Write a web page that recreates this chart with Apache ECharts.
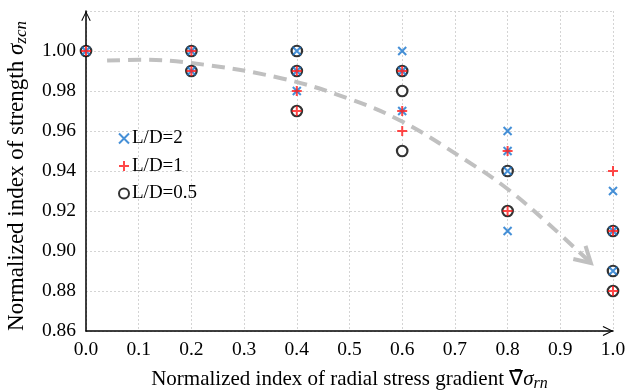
<!DOCTYPE html>
<html>
<head>
<meta charset="utf-8">
<script src="https://cdn.jsdelivr.net/npm/echarts@6/dist/echarts.min.js"></script>
<style>
  html, body { margin: 0; padding: 0; background: #fff; }
  #chart { width: 625px; height: 392px; }
</style>
</head>
<body>
<div id="chart"></div>
<script>
// Measured strength index vs. radial stress gradient index, by slenderness ratio
var seriesNames = ['L/D=2', 'L/D=1', 'L/D=0.5'];

var ld2Points = [
  [0.0, 1.00],
  [0.2, 1.00], [0.2, 0.99],
  [0.4, 1.00], [0.4, 0.99], [0.4, 0.98],
  [0.6, 1.00], [0.6, 0.99], [0.6, 0.97],
  [0.8, 0.96], [0.8, 0.95], [0.8, 0.94], [0.8, 0.91],
  [1.0, 0.93], [1.0, 0.91], [1.0, 0.89]
];
var ld1Points = [
  [0.0, 1.00],
  [0.2, 1.00], [0.2, 0.99],
  [0.4, 0.99], [0.4, 0.98], [0.4, 0.97],
  [0.6, 0.99], [0.6, 0.97], [0.6, 0.96],
  [0.8, 0.95], [0.8, 0.92],
  [1.0, 0.94], [1.0, 0.91], [1.0, 0.88]
];
var ld05Points = [
  [0.0, 1.00],
  [0.2, 1.00], [0.2, 0.99],
  [0.4, 1.00], [0.4, 0.99], [0.4, 0.97],
  [0.6, 0.99], [0.6, 0.98], [0.6, 0.95],
  [0.8, 0.94], [0.8, 0.92],
  [1.0, 0.91], [1.0, 0.89], [1.0, 0.88]
];

// Hand-drawn trend guide (dashed arrow)
var trendX = [0.04, 0.10, 0.20, 0.37, 0.50, 0.60, 0.72, 0.80, 0.88, 0.958];
var trendY = [0.9952, 0.9956, 0.994, 0.9864, 0.9760, 0.9647, 0.9455, 0.931, 0.913, 0.894];

var xTicks = [0.0, 0.1, 0.2, 0.3, 0.4, 0.5, 0.6, 0.7, 0.8, 0.9, 1.0];
var yTicks = [0.86, 0.88, 0.90, 0.92, 0.94, 0.96, 0.98, 1.00];

var FONT = '"Liberation Serif", "Times New Roman", serif';
var CROSS = 'path://M0,0L10,10M10,0L0,10';
var PLUS = 'path://M5,0L5,10M0,5L10,5';
// open chevron drawn as a filled outline so the axis arrow looks like a stroke
var CHEVRON = 'path://M0,10L5,0L10,10L9,10.6L5,2.2L1,10.6Z';

var trendData = trendX.map(function (x, i) { return [x, trendY[i]]; });

var chart = echarts.init(document.getElementById('chart'));
chart.setOption({
  animation: false,
  backgroundColor: '#ffffff',
  textStyle: { fontFamily: FONT, color: '#000' },
  grid: { left: 86, right: 12, top: 11, bottom: 61, containLabel: false, outerBoundsMode: 'none' },
  legend: {
    orient: 'vertical',
    left: 113,
    top: 124,
    itemWidth: 10,
    itemHeight: 10,
    itemGap: 8.5,
    data: seriesNames,
    textStyle: { fontFamily: FONT, fontSize: 19, color: '#000', padding: [0, 0, 0, -2] }
  },
  xAxis: {
    type: 'value',
    min: xTicks[0],
    max: xTicks[xTicks.length - 1],
    interval: 0.1,
    name: '{t|Normalized index of radial stress gradient }{n|\u2207\u0304}{s|\u03c3}{sub|rn}',
    nameLocation: 'middle',
    nameGap: 36,
    nameTextStyle: {
      rich: {
        t: { fontFamily: FONT, fontSize: 21, color: '#000' },
        n: { fontFamily: FONT, fontSize: 21, color: '#000' },
        s: { fontFamily: FONT, fontSize: 21, color: '#000', fontStyle: 'italic' },
        sub: { fontFamily: FONT, fontSize: 16, color: '#000', fontStyle: 'italic', verticalAlign: 'bottom', padding: [9, 0, 0, 0] }
      }
    },
    axisLine: {
      show: true,
      onZero: false,
      symbol: ['none', CHEVRON],
      symbolSize: [10, 11],
      symbolOffset: [0, -5],
      lineStyle: { color: '#000', width: 1.5 }
    },
    axisTick: { show: false },
    axisLabel: {
      fontFamily: FONT, fontSize: 19.5, color: '#000', margin: 9,
      formatter: function (v) { return v.toFixed(1); }
    },
    splitLine: { show: true, lineStyle: { color: '#d4d4d4', type: [2, 2], width: 1 } }
  },
  yAxis: {
    type: 'value',
    min: 0.86,
    max: 1.02,
    interval: 0.02,
    name: '{t|Normalized index of strength }{s|\u03c3}{sub|zcn}',
    nameLocation: 'middle',
    nameGap: 56,
    nameRotate: 90,
    nameTextStyle: {
      padding: [0, 10, 0, 0],
      rich: {
        t: { fontFamily: FONT, fontSize: 23, color: '#000' },
        s: { fontFamily: FONT, fontSize: 23, color: '#000', fontStyle: 'italic' },
        sub: { fontFamily: FONT, fontSize: 17, color: '#000', fontStyle: 'italic', verticalAlign: 'bottom', padding: [10, 0, 0, 0] }
      }
    },
    axisLine: {
      show: true,
      onZero: false,
      symbol: ['none', CHEVRON],
      symbolSize: [11, 10],
      symbolOffset: [0, -5],
      lineStyle: { color: '#000', width: 1.5 }
    },
    axisTick: { show: false },
    axisLabel: {
      fontFamily: FONT, fontSize: 19.5, color: '#000', margin: 10,
      showMaxLabel: false,
      formatter: function (v) { return v.toFixed(2); }
    },
    splitLine: { show: true, lineStyle: { color: '#d4d4d4', type: [2, 2], width: 1 } }
  },
  series: [
    {
      name: 'trend',
      type: 'line',
      data: trendData,
      smooth: 0.4,
      symbol: 'none',
      silent: true,
      z: 1,
      lineStyle: { color: '#c0c0c0', width: 4, type: [13, 8] }
    },
    {
      // chevron head of the trend guide, aligned to its last segment
      name: 'trendHead',
      type: 'custom',
      silent: true,
      z: 1,
      data: [[trendX[trendX.length - 1], trendY[trendY.length - 1]]],
      renderItem: function (params, api) {
        var n = trendX.length;
        var tip = api.coord([trendX[n - 1], trendY[n - 1]]);
        var prev = api.coord([trendX[n - 2], trendY[n - 2]]);
        var ang = Math.atan2(tip[1] - prev[1], tip[0] - prev[0]);
        var len = 18, spread = Math.PI / 6;
        var a = [tip[0] - len * Math.cos(ang - spread), tip[1] - len * Math.sin(ang - spread)];
        var b = [tip[0] - len * Math.cos(ang + spread), tip[1] - len * Math.sin(ang + spread)];
        return {
          type: 'polyline',
          shape: { points: [a, tip, b] },
          style: { stroke: '#c0c0c0', lineWidth: 4, fill: null, lineJoin: 'miter' }
        };
      }
    },
    {
      name: 'L/D=0.5',
      type: 'scatter',
      data: ld05Points,
      symbol: 'circle',
      symbolSize: 10.5,
      z: 3,
      itemStyle: { color: '#ffffff', borderColor: '#000000', borderWidth: 2.2 }
    },
    {
      name: 'L/D=2',
      type: 'scatter',
      data: ld2Points,
      symbol: CROSS,
      symbolSize: 8,
      z: 4,
      itemStyle: { color: 'rgba(0,0,0,0)', borderColor: '#1874cd', borderWidth: 2 }
    },
    {
      name: 'L/D=1',
      type: 'scatter',
      data: ld1Points,
      symbol: PLUS,
      symbolSize: 10,
      z: 5,
      itemStyle: { color: 'rgba(0,0,0,0)', borderColor: '#ff1a1a', borderWidth: 2 }
    }
  ]
});
</script>
</body>
</html>
